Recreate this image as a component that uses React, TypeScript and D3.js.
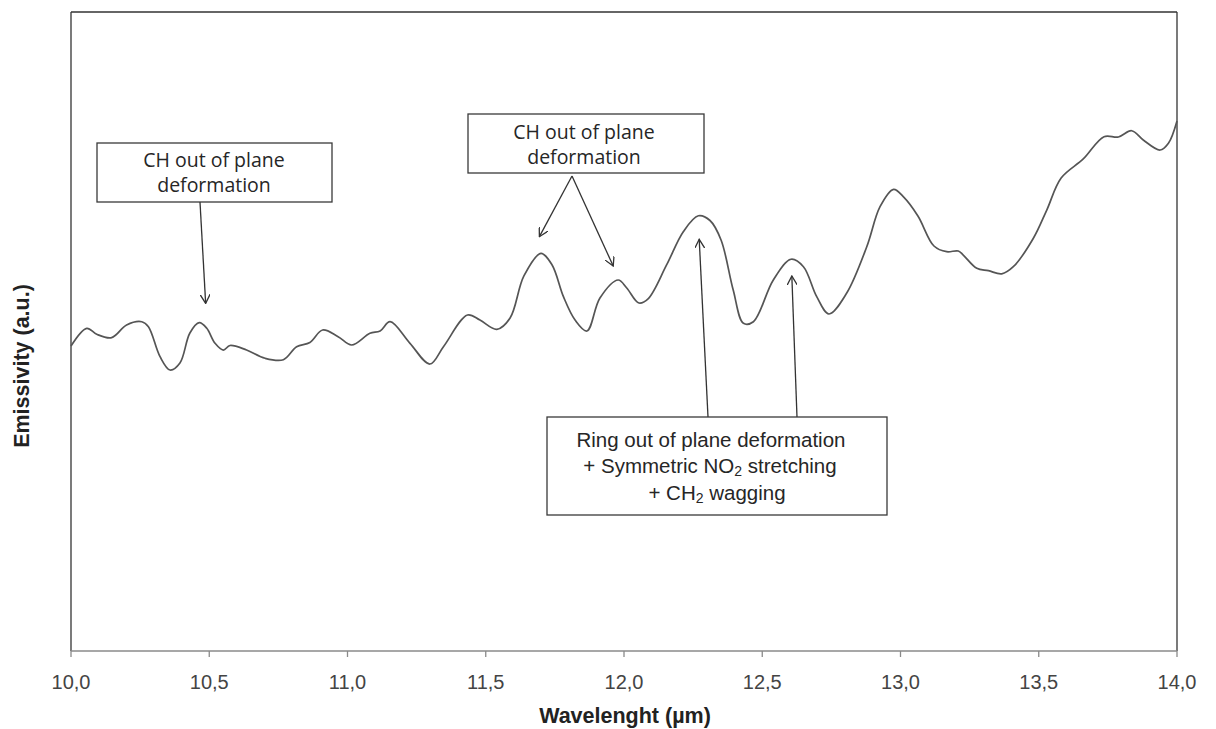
import React from "react";
import * as d3 from "d3";

// Wavelength (µm) sampled along the spectrum
const wavelength = [
  10.0, 10.057, 10.093, 10.147, 10.201, 10.256, 10.28, 10.322, 10.358, 10.394,
  10.43, 10.464, 10.491, 10.521, 10.551, 10.575, 10.635, 10.702, 10.768, 10.816,
  10.864, 10.91, 10.966, 11.015, 11.081, 11.118, 11.154, 11.226, 11.298, 11.347,
  11.434, 11.479, 11.54, 11.588, 11.638, 11.7, 11.74, 11.781, 11.823, 11.866,
  11.913, 11.979, 12.01, 12.054, 12.088, 12.154, 12.215, 12.269, 12.311, 12.351,
  12.395, 12.432, 12.468, 12.54, 12.604, 12.649, 12.697, 12.741, 12.805, 12.878,
  12.926, 12.975, 13.01, 13.063, 13.121, 13.167, 13.209, 13.227, 13.276, 13.318,
  13.366, 13.408, 13.48, 13.529, 13.581, 13.661, 13.736, 13.788, 13.836, 13.878,
  13.939, 13.969, 14.0,
];

// Emissivity (a.u.)
const emissivity = [
  47.73, 50.5, 49.56, 49.03, 51.02, 51.53, 50.75, 46.06, 43.97, 45.07,
  49.77, 51.38, 50.5, 48.15, 47.1, 47.81, 47.1, 45.81, 45.59, 47.62,
  48.28, 50.23, 49.19, 47.89, 49.72, 50.08, 51.53, 48.15, 44.91, 47.62,
  52.58, 51.8, 50.34, 52.11, 58.69, 62.24, 60.41, 55.45, 51.8, 50.08,
  55.24, 58.06, 56.81, 54.46, 55.16, 60.41, 65.65, 68.11, 67.37, 64.32,
  56.49, 51.28, 51.53, 58.06, 61.31, 60.14, 55.45, 52.74, 55.98, 63.27,
  69.53, 72.25, 71.1, 68.08, 63.38, 62.49, 62.6, 61.97, 59.89, 59.52,
  59.03, 60.14, 64.55, 69.01, 74.02, 77.0, 80.49, 80.44, 81.42, 79.97,
  78.4, 79.45, 82.94,
];

const xTicks = [10, 10.5, 11, 11.5, 12, 12.5, 13, 13.5, 14];

// Annotation arrow targets (wavelength, emissivity)
const arrow1Tip = [10.487, 54.4];
const arrow2Tips = [
  [11.694, 64.84],
  [11.961, 60.25],
];
const arrow3Tips = [
  [12.272, 64.43],
  [12.607, 58.69],
];

const W = 1216;
const H = 729;
const L = 71;
const R = 1177;
const T = 12;
const B = 651;

export default function App() {
  const x = d3.scaleLinear().domain([10, 14]).range([L, R]);
  const y = d3.scaleLinear().domain([0, 100]).range([B, T]);
  const pts: [number, number][] = wavelength.map((w, i) => [x(w), y(emissivity[i])]);
  const line = d3.line().curve(d3.curveCatmullRom.alpha(0.5));
  const d = line(pts) || "";
  const fmt = (v: number) => v.toFixed(1).replace(".", ",");

  const boxStroke = "#3a3a3a";
  const textFill = "#262626";
  const boxFont = "'Open Sans', 'DejaVu Sans', sans-serif";
  const arialFont = "'Liberation Sans', Arial, sans-serif";
  const boxFs = 19.5;
  const b3Fs = 20.5;

  return (
    <svg
      width={W}
      height={H}
      style={{ position: "absolute", left: 0, top: 0, background: "#fff" }}
    >
      <defs>
        <marker
          id="arr"
          viewBox="0 0 10 10"
          refX="9"
          refY="5"
          markerWidth="10"
          markerHeight="10"
          markerUnits="userSpaceOnUse"
          orient="auto"
        >
          <path d="M0,0 L9,5 L0,10" fill="none" stroke="#333" strokeWidth={1.3} />
        </marker>
      </defs>
      <rect x={0} y={0} width={W} height={H} fill="#fff" />
      {/* frame */}
      <line x1={L} y1={T} x2={R} y2={T} stroke="#333" strokeWidth={1.3} />
      <line x1={L} y1={T} x2={L} y2={B} stroke="#333" strokeWidth={1.3} />
      <line x1={R} y1={T} x2={R} y2={B} stroke="#333" strokeWidth={1.3} />
      <line x1={L} y1={B} x2={R} y2={B} stroke="#8a8a8a" strokeWidth={1.3} />
      {xTicks.map((t) => (
        <g key={t}>
          <line x1={x(t)} x2={x(t)} y1={B} y2={B + 6} stroke="#8a8a8a" strokeWidth={1.3} />
          <text
            x={x(t)}
            y={689}
            textAnchor="middle"
            fontFamily={arialFont}
            fontSize={20}
            fill="#444"
          >
            {fmt(t)}
          </text>
        </g>
      ))}
      <text
        x={625}
        y={723}
        textAnchor="middle"
        fontFamily={arialFont}
        fontSize={21.5}
        fontWeight="bold"
        fill="#222"
      >
        Wavelenght (µm)
      </text>
      <text
        transform={`translate(29,366) rotate(-90)`}
        textAnchor="middle"
        fontFamily={arialFont}
        fontSize={21.5}
        fontWeight="bold"
        fill="#222"
      >
        Emissivity (a.u.)
      </text>

      {/* spectrum */}
      <path d={d} fill="none" stroke="#555" strokeWidth={1.7} />

      {/* annotation 1 */}
      <rect x={97} y={143} width={235} height={59} fill="#fff" stroke={boxStroke} strokeWidth={1.3} />
      <text x={214} y={167} textAnchor="middle" fontFamily={boxFont} fontSize={boxFs} fill={textFill}>
        CH out of plane
      </text>
      <text x={214} y={192} textAnchor="middle" fontFamily={boxFont} fontSize={boxFs} fill={textFill}>
        deformation
      </text>
      <line
        x1={200}
        y1={202}
        x2={x(arrow1Tip[0])}
        y2={y(arrow1Tip[1])}
        stroke="#333"
        strokeWidth={1.3}
        markerEnd="url(#arr)"
      />

      {/* annotation 2 */}
      <rect x={468} y={114} width={236} height={59} fill="#fff" stroke={boxStroke} strokeWidth={1.3} />
      <text x={584} y={139} textAnchor="middle" fontFamily={boxFont} fontSize={boxFs} fill={textFill}>
        CH out of plane
      </text>
      <text x={584} y={164} textAnchor="middle" fontFamily={boxFont} fontSize={boxFs} fill={textFill}>
        deformation
      </text>
      {arrow2Tips.map((p, i) => (
        <line
          key={i}
          x1={572}
          y1={176}
          x2={x(p[0])}
          y2={y(p[1])}
          stroke="#333"
          strokeWidth={1.3}
          markerEnd="url(#arr)"
        />
      ))}

      {/* annotation 3 */}
      {arrow3Tips.map((p, i) => (
        <line
          key={i}
          x1={i === 0 ? 708 : 797}
          y1={417}
          x2={x(p[0])}
          y2={y(p[1])}
          stroke="#333"
          strokeWidth={1.3}
          markerEnd="url(#arr)"
        />
      ))}
      <rect x={547} y={417} width={340} height={98} fill="#fff" stroke={boxStroke} strokeWidth={1.3} />
      <text x={711} y={447} textAnchor="middle" fontFamily={arialFont} fontSize={b3Fs} fill={textFill}>
        Ring out of plane deformation
      </text>
      <text x={710} y={473} textAnchor="middle" fontFamily={arialFont} fontSize={b3Fs} fill={textFill}>
        + Symmetric NO<tspan fontSize={14} dy={3}>2</tspan>
        <tspan dy={-3}> stretching</tspan>
      </text>
      <text x={717} y={500} textAnchor="middle" fontFamily={arialFont} fontSize={b3Fs} fill={textFill}>
        + CH<tspan fontSize={14} dy={3}>2</tspan>
        <tspan dy={-3}> wagging</tspan>
      </text>
    </svg>
  );
}
